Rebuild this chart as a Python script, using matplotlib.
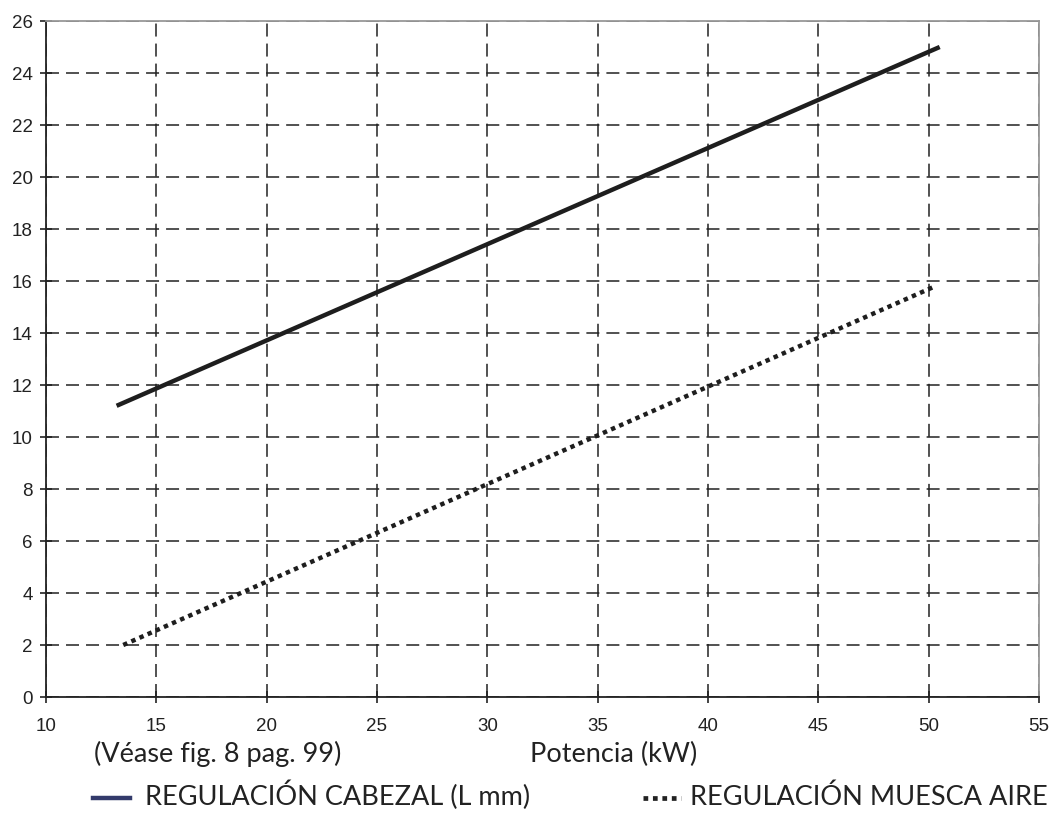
import matplotlib
matplotlib.use("Agg")
import matplotlib.pyplot as plt
from matplotlib.lines import Line2D

# Data
potencia_cabezal = [13.2, 50.5]
cabezal_mm = [11.2, 25.0]
potencia_muesca = [13.5, 50.3]
muesca_mm = [2.0, 15.8]
xticks = [10, 15, 20, 25, 30, 35, 40, 45, 50, 55]
yticks = list(range(0, 27, 2))

W, H = 1055, 813
fig = plt.figure(figsize=(W / 100, H / 100), dpi=100)
ax = fig.add_axes([46 / W, 1 - 697 / H, (1039 - 46) / W, (697 - 21) / H])

ax.plot(potencia_cabezal, cabezal_mm, color="#1e1e1e", lw=3.2, solid_capstyle="butt", zorder=3)
ax.plot(potencia_muesca, muesca_mm, color="#1e1e1e", lw=3.2, linestyle=(0, (1, 1.0)),
        dash_capstyle="butt", zorder=3)

ax.set_xlim(10, 55)
ax.set_ylim(0, 26)
ax.set_xticks(xticks)
ax.set_yticks(yticks)
ax.grid(True, color="#222222", linestyle=(0, (8.5, 4.6)), lw=1.1)
for s in ["top", "right"]:
    ax.spines[s].set_color("#999999")
    ax.spines[s].set_linewidth(1.3)
for s in ["left", "bottom"]:
    ax.spines[s].set_color("#222222")
    ax.spines[s].set_linewidth(1.3)
ax.tick_params(direction="inout", length=9, width=1.2, color="#222222",
               labelsize=13.5, labelcolor="#222222")
ax.tick_params(axis="x", pad=10.5)
ax.tick_params(axis="y", pad=5)
for lab in ax.get_xticklabels() + ax.get_yticklabels():
    lab.set_family("Liberation Sans")

txt_font = "Lato"
fs = 19.5
fig.text(218 / W, 1 - 762 / H, "(Véase fig. 8 pag. 99)", ha="center", va="baseline",
         fontsize=fs, family=txt_font, color="#222222")
fig.text(614 / W, 1 - 762 / H, "Potencia (kW)", ha="center", va="baseline",
         fontsize=fs, family=txt_font, color="#222222")

fig.add_artist(Line2D([93 / W, 130 / W], [1 - 798 / H] * 2, color="#333a6b", lw=3.2))
fig.text(145 / W, 1 - 805 / H, "REGULACIÓN CABEZAL (L mm)", ha="left", va="baseline",
         fontsize=fs, family=txt_font, color="#222222")
fig.add_artist(Line2D([643 / W, 681 / W], [1 - 798 / H] * 2, color="#222222", lw=3.4,
                      linestyle=(0, (1, 1.0)), dash_capstyle="butt"))
fig.text(690 / W, 1 - 805 / H, "REGULACIÓN MUESCA AIRE", ha="left", va="baseline",
         fontsize=fs, family=txt_font, color="#222222")

fig.savefig("out.png", dpi=100)
